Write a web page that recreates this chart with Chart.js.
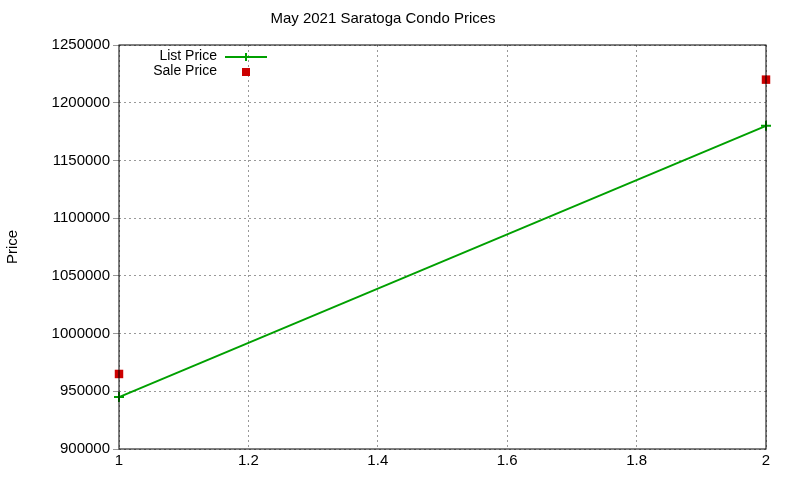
<!DOCTYPE html>
<html>
<head>
<meta charset="utf-8">
<script src="https://cdn.jsdelivr.net/npm/chart.js@4"></script>
<style>
  body { margin: 0; background: #fff; }
  #wrap { width: 800px; height: 480px; }
</style>
</head>
<body>
<div id="wrap"><canvas id="c"></canvas></div>
<script>
const xValues = [1, 2];
const listPrice = [945000, 1180000];
const salePrice = [965000, 1220000];
const seriesNames = ['List Price', 'Sale Price'];

const green = '#00a000';
const red = '#cc0000';
const fontFam = '"Liberation Sans", Arial, sans-serif';

// gnuplot style legend + full border box
const gnuplotBits = {
  id: 'gnuplotBits',
  afterDraw(chart) {
    const ctx = chart.ctx;
    const a = chart.chartArea;
    ctx.save();
    ctx.strokeStyle = '#000';
    ctx.lineWidth = 1;
    ctx.strokeRect(a.left, a.top, a.right - a.left, a.bottom - a.top);

    ctx.font = '14px ' + fontFam;
    ctx.fillStyle = '#000';
    ctx.textAlign = 'right';
    ctx.textBaseline = 'middle';
    ctx.fillText(seriesNames[0], 217, 56);
    ctx.fillText(seriesNames[1], 217, 71);

    ctx.strokeStyle = green;
    ctx.lineWidth = 2;
    ctx.beginPath();
    ctx.moveTo(225, 57); ctx.lineTo(267, 57);
    ctx.moveTo(246, 53); ctx.lineTo(246, 61);
    ctx.stroke();
    ctx.fillStyle = red;
    ctx.fillRect(242, 68, 8, 8);
    ctx.restore();
  }
};

new Chart('c', {
  type: 'line',
  data: {
    datasets: [
      {
        label: seriesNames[0],
        data: xValues.map((x, i) => ({ x: x, y: listPrice[i] })),
        borderColor: green,
        backgroundColor: green,
        borderWidth: 2,
        pointStyle: 'cross',
        pointRadius: 5,
        pointBorderWidth: 2,
        fill: false,
      },
      {
        label: seriesNames[1],
        data: xValues.map((x, i) => ({ x: x, y: salePrice[i] })),
        showLine: false,
        borderColor: red,
        backgroundColor: red,
        pointStyle: 'rect',
        pointRadius: 6,
        pointBorderWidth: 0,
      },
    ],
  },
  options: {
    responsive: true,
    maintainAspectRatio: false,
    animation: false,
    clip: false,
    layout: { padding: { right: 34 } },
    plugins: {
      legend: { display: false },
      tooltip: { enabled: false },
      title: {
        display: true,
        text: 'May 2021 Saratoga Condo Prices',
        color: '#000',
        font: { family: fontFam, size: 15, weight: 'normal' },
        padding: { top: 10, bottom: 17 },
      },
    },
    scales: {
      x: {
        type: 'linear',
        min: 1,
        max: 2,
        ticks: {
          stepSize: 0.2,
          color: '#000',
          font: { family: fontFam, size: 15 },
          callback: (v) => +v.toFixed(1),
        },
        grid: { color: '#999', tickLength: 0 },
        border: { display: false, dash: [2, 3] },
        afterFit(s) { s.height = 31; },
      },
      y: {
        min: 900000,
        max: 1250000,
        ticks: {
          stepSize: 50000,
          color: '#000',
          font: { family: fontFam, size: 15 },
          callback: (v) => String(v),
        },
        grid: { color: '#999', tickLength: 6 },
        border: { display: false, dash: [2, 3] },
        title: {
          display: true,
          text: 'Price',
          color: '#000',
          font: { family: fontFam, size: 15 },
        },
        afterFit(s) { s.width = 119; },
      },
    },
  },
  plugins: [gnuplotBits],
});
</script>
</body>
</html>
